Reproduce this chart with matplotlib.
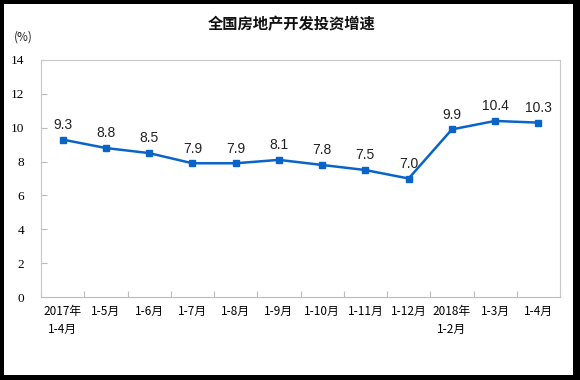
import matplotlib.pyplot as plt
from matplotlib.patches import Rectangle

plt.rcParams['font.family'] = ['Noto Sans CJK SC', 'DejaVu Sans']

# données
categories = ["2017年\n1-4月", "1-5月", "1-6月", "1-7月", "1-8月", "1-9月",
              "1-10月", "1-11月", "1-12月", "2018年\n1-2月", "1-3月", "1-4月"]
values = [9.3, 8.8, 8.5, 7.9, 7.9, 8.1, 7.8, 7.5, 7.0, 9.9, 10.4, 10.3]
yticks = [0, 2, 4, 6, 8, 10, 12, 14]

W, H = 580, 380
fig = plt.figure(figsize=(W / 100, H / 100), dpi=100)
fig.patch.set_facecolor("black")
# cadre blanc interieur (bordure noire autour)
fig.patches.append(Rectangle((4 / W, 5 / H), 569 / W, 371 / H, transform=fig.transFigure,
                             facecolor="white", edgecolor="none", zorder=-1))

ax = fig.add_axes([41 / W, (H - 297) / H, 519 / W, 237 / H])
x = list(range(len(values)))
ax.plot(x, values, color="#0a64c8", lw=1.8, marker="s", markersize=5, clip_on=False)
for xi, v in zip(x, values):
    ax.text(xi, v + 0.45, f"{v:.1f}", ha="center", va="bottom", fontsize=10,
            family="Liberation Sans", color="#222222")

ax.set_xlim(-0.5, len(values) - 0.5)
ax.set_ylim(0, 14)
ax.set_yticks(yticks)
ax.set_yticklabels([str(t) for t in yticks], fontsize=9.5, family="Liberation Serif")
ax.set_xticks([i - 0.5 for i in range(len(values) + 1)], minor=False)
ax.set_xticklabels([])
ax.set_xticks(x, minor=True)
ax.set_xticklabels(categories, minor=True, fontsize=8.5, linespacing=1.5)
ax.tick_params(axis="x", which="major", direction="in", length=4, color="#bbbbbb")
ax.tick_params(axis="x", which="minor", length=0, pad=6)
ax.tick_params(axis="y", direction="in", length=4, color="#bbbbbb", pad=12)
for s in ax.spines.values():
    s.set_color("#c8c8c8")
ax.spines["bottom"].set_color("#bbbbbb")

fig.text(292 / W, 1 - 24 / H, "全国房地产开发投资增速", ha="center", va="center",
         fontsize=11, fontweight="bold", color="#111111")
fig.text(23 / W, 1 - 37 / H, "(%)", ha="center", va="center", fontsize=8.5, color="#222222")

fig.savefig("out.png", dpi=100, facecolor=fig.get_facecolor())
